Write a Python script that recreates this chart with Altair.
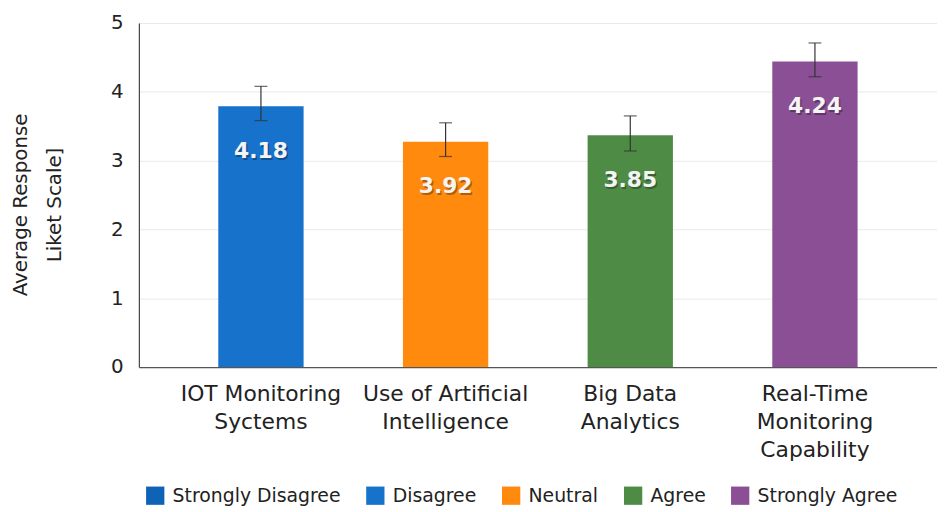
import altair as alt
import pandas as pd

categories = ["IOT Monitoring\nSyctems", "Use of Artificial\nIntelligence",
              "Big Data\nAnalytics", "Real-Time\nMonitoring\nCapability"]
values = [3.79, 3.275, 3.37, 4.44]
err_lo = [3.58, 3.06, 3.14, 4.22]
err_hi = [4.08, 3.55, 3.65, 4.71]
bar_labels = ["4.18", "3.92", "3.85", "4.24"]
levels = ["Disagree", "Neutral", "Agree", "Strongly Agree"]

legend_domain = ["Strongly Disagree", "Disagree", "Neutral", "Agree", "Strongly Agree"]
legend_colors = ["#0F63B6", "#1772CC", "#FF8A0E", "#4E8C46", "#8A4F94"]

df = pd.DataFrame({
    "cat": categories, "val": values, "lo": err_lo, "hi": err_hi,
    "lab": bar_labels, "level": levels,
})

FONT = "DejaVu Sans"

x_enc = alt.X("cat:N", sort=categories,
              scale=alt.Scale(paddingInner=0.538, paddingOuter=0.43),
              axis=alt.Axis(title=None, labelAngle=0,
                            labelExpr="split(datum.label, '\\n')",
                            labelFont=FONT, labelFontSize=22, labelColor="#222",
                            labelLineHeight=28, labelPadding=17, labelLimit=0,
                            ticks=False, domainColor="#555", domainWidth=1.2,
                            grid=False))

y_scale = alt.Scale(domain=[0, 5], nice=False)

bars = alt.Chart(df).mark_bar().encode(
    x=x_enc,
    y=alt.Y("val:Q", scale=y_scale,
            axis=alt.Axis(title=["Average Response", "Liket Scale]"],
                          values=[0, 1, 2, 3, 4, 5], format="d",
                          labelFont=FONT, labelFontSize=20, labelColor="#222",
                          labelPadding=16, ticks=False,
                          domainColor="#444", domainWidth=1.2,
                          gridColor="#e9e9e9", gridWidth=1,
                          titleFont=FONT, titleFontSize=20, titleFontWeight="normal",
                          titleColor="#222", titleLineHeight=34,
                          titleX=-113, titleY=183, titleAlign="center",
                          titleBaseline="alphabetic", titleAngle=270)),
    color=alt.Color("level:N",
                    scale=alt.Scale(domain=legend_domain, range=legend_colors),
                    legend=alt.Legend(title=None, orient="none", direction="horizontal",
                                      legendX=7, legendY=467, columns=5,
                                      symbolType="square", symbolSize=340,
                                      symbolStrokeWidth=0, symbolOpacity=1,
                                      labelFont=FONT, labelFontSize=19, labelLimit=0,
                                      labelColor="#222", labelOffset=8,
                                      columnPadding=25)),
)

rules = alt.Chart(df).mark_rule(color="#333", strokeWidth=1.2).encode(
    x=alt.X("cat:N", sort=categories), y=alt.Y("lo:Q", scale=y_scale), y2="hi:Q")

caps_hi = alt.Chart(df).mark_tick(color="#333", thickness=1.3, size=13).encode(
    x=alt.X("cat:N", sort=categories), y=alt.Y("hi:Q", scale=y_scale))
caps_lo = alt.Chart(df).mark_tick(color="#333", thickness=1.3, size=13).encode(
    x=alt.X("cat:N", sort=categories), y=alt.Y("lo:Q", scale=y_scale))

shadow = alt.Chart(df).mark_text(font=FONT, fontSize=22, fontWeight="bold",
                                 color="#000", opacity=0.3, baseline="middle",
                                 dy=47, dx=1.5).encode(
    x=alt.X("cat:N", sort=categories), y=alt.Y("val:Q", scale=y_scale), text="lab:N")

texts = alt.Chart(df).mark_text(font=FONT, fontSize=22, fontWeight="bold",
                                color="#F4F4F4", baseline="middle", dy=45).encode(
    x=alt.X("cat:N", sort=categories), y=alt.Y("val:Q", scale=y_scale), text="lab:N")

chart = alt.layer(bars, rules, caps_hi, caps_lo, shadow, texts).properties(
    width=805, height=347,
    autosize=alt.AutoSizeParams(type="none"),
    padding={"left": 132, "top": 13, "right": 0, "bottom": 138},
    background="white",
).configure_view(stroke=None)

chart.save("out.html", embed_options={"renderer": "svg", "actions": False})
